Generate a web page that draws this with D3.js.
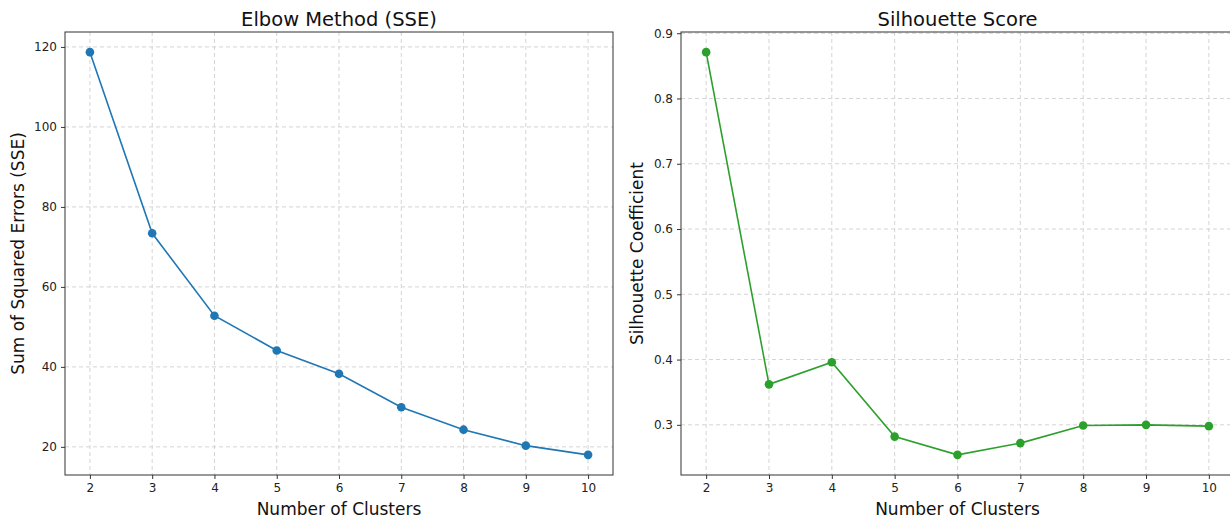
<!DOCTYPE html>
<html lang="en">
<head>
<meta charset="UTF-8">
<title>Elbow and Silhouette</title>
<script src="https://cdn.jsdelivr.net/npm/d3@7/dist/d3.min.js"></script>
<style>
  body { margin: 0; background: #fff; font-family: "DejaVu Sans", sans-serif; }
  .grid line { stroke: #d4d4d4; stroke-dasharray: 4,3; }
  .axis text { font-size: 12px; fill: #222; font-family: "DejaVu Sans", sans-serif; }
  .axis line, .axis path { stroke: #333; }
</style>
</head>
<body>
<svg id="chart" width="1230" height="520"></svg>
<script>
// data
var clusters = [2, 3, 4, 5, 6, 7, 8, 9, 10];
var sse = [118.7, 73.4, 52.8, 44.1, 38.3, 29.9, 24.3, 20.3, 18.0];
var silhouette = [0.871, 0.362, 0.396, 0.282, 0.254, 0.272, 0.299, 0.300, 0.298];
var sseTicks = [20, 40, 60, 80, 100, 120];
var silTicks = [0.3, 0.4, 0.5, 0.6, 0.7, 0.8, 0.9];

var svg = d3.select("#chart");

function panel(opt) {
  var x = d3.scaleLinear().domain([1.6, 10.4]).range([opt.left, opt.right]);
  var lo = d3.min(opt.values), hi = d3.max(opt.values), pad = (hi - lo) * 0.05;
  var y = d3.scaleLinear().domain([lo - pad, hi + pad]).range([opt.bottom, opt.top]);
  var g = svg.append("g");

  // grid
  g.append("g").attr("class", "grid").selectAll("line").data(clusters).enter().append("line")
    .attr("x1", d => x(d)).attr("x2", d => x(d)).attr("y1", opt.top).attr("y2", opt.bottom);
  g.append("g").attr("class", "grid").selectAll("line").data(opt.ticks).enter().append("line")
    .attr("x1", opt.left).attr("x2", opt.right).attr("y1", d => y(d)).attr("y2", d => y(d));

  // line + markers
  g.append("path").datum(opt.values)
    .attr("fill", "none").attr("stroke", opt.color).attr("stroke-width", 1.6)
    .attr("d", d3.line().x((d, i) => x(clusters[i])).y(d => y(d)));
  g.selectAll("circle").data(opt.values).enter().append("circle")
    .attr("cx", (d, i) => x(clusters[i])).attr("cy", d => y(d)).attr("r", 4.3)
    .attr("fill", opt.color);

  // frame
  g.append("rect").attr("x", opt.left).attr("y", opt.top)
    .attr("width", opt.right - opt.left).attr("height", opt.bottom - opt.top)
    .attr("fill", "none").attr("stroke", "#333").attr("stroke-width", 1);

  // axes
  var xa = g.append("g").attr("class", "axis").attr("transform", "translate(0," + opt.bottom + ")")
    .call(d3.axisBottom(x).tickValues(clusters).tickSize(4).tickPadding(4));
  xa.select(".domain").remove();
  var ya = g.append("g").attr("class", "axis").attr("transform", "translate(" + opt.left + ",0)")
    .call(d3.axisLeft(y).tickValues(opt.ticks).tickSize(4).tickPadding(4).tickFormat(opt.fmt));
  ya.select(".domain").remove();

  // labels
  var cx = (opt.left + opt.right) / 2;
  g.append("text").attr("x", cx).attr("y", 26).attr("text-anchor", "middle")
    .attr("font-size", 19.5).attr("fill", "#111").text(opt.title);
  g.append("text").attr("x", cx).attr("y", 515).attr("text-anchor", "middle")
    .attr("font-size", 17).attr("fill", "#111").text("Number of Clusters");
  g.append("text")
    .attr("transform", "translate(" + opt.ylabX + "," + (opt.top + opt.bottom) / 2 + ") rotate(-90)")
    .attr("text-anchor", "middle").attr("font-size", 17).attr("fill", "#111").text(opt.ylabel);
}

panel({ left: 65, right: 613, top: 32, bottom: 475, values: sse, ticks: sseTicks,
  fmt: d3.format("d"), color: "#1f77b4", title: "Elbow Method (SSE)",
  ylabel: "Sum of Squared Errors (SSE)", ylabX: 24 });
panel({ left: 681, right: 1234, top: 32, bottom: 475, values: silhouette, ticks: silTicks,
  fmt: d3.format(".1f"), color: "#2ca02c", title: "Silhouette Score",
  ylabel: "Silhouette Coefficient", ylabX: 643 });
</script>
</body>
</html>
